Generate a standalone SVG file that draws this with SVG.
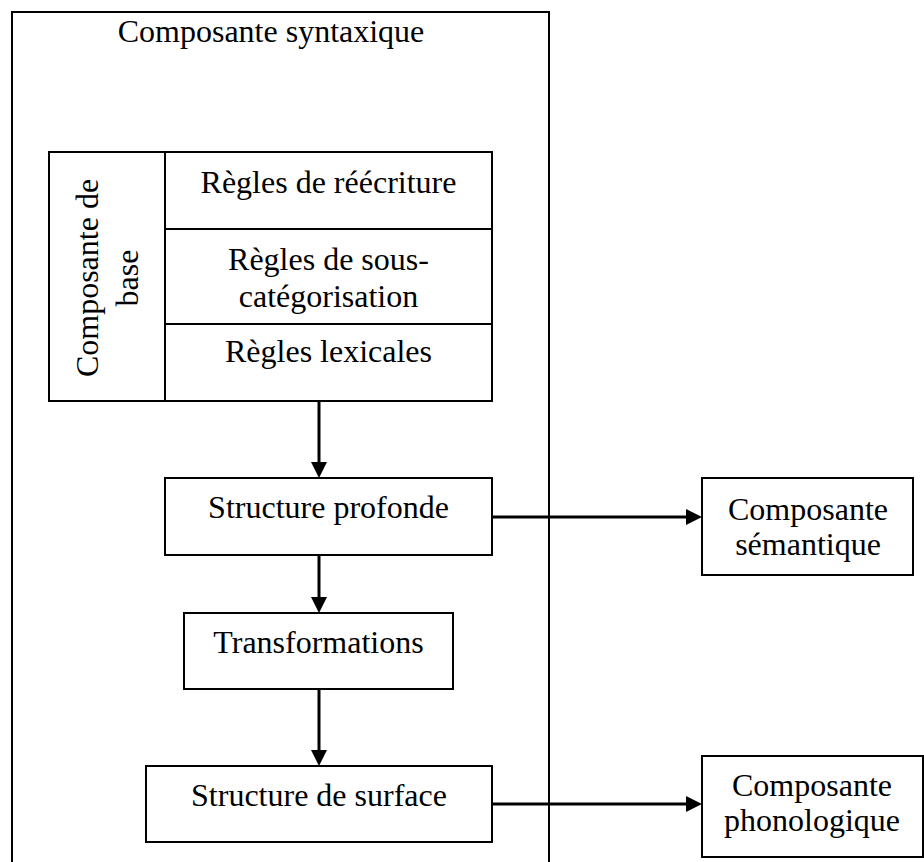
<svg xmlns="http://www.w3.org/2000/svg" width="924" height="862" viewBox="0 0 924 862">
  <style>
    .box { fill: #fff; stroke: #000; stroke-width: 2; }
    .rule { stroke: #000; stroke-width: 2; }
    .wire { fill: none; stroke: #000; stroke-width: 3; }
    text { font-family: "Liberation Serif", "Times New Roman", serif; font-size: 32px; fill: #000; text-anchor: middle; }
  </style>
  <defs>
    <marker id="head" viewBox="0 0 16 16" refX="8" refY="8" markerWidth="16" markerHeight="16" markerUnits="userSpaceOnUse" orient="auto">
      <path d="M0,0 L16,8 L0,16 z" fill="#000"/>
    </marker>
  </defs>
  <rect width="924" height="862" fill="#fff"/>

  <!-- syntactic component frame (runs off the bottom edge) -->
  <g id="syntaxique">
    <rect class="box" x="12" y="12" width="537" height="870"/>
    <text x="271" y="42">Composante syntaxique</text>
  </g>

  <!-- base component with its three rule sets -->
  <g id="base">
    <rect class="box" x="49" y="152" width="443" height="249"/>
    <line class="rule" x1="165" y1="152" x2="165" y2="401"/>
    <line class="rule" x1="165" y1="229" x2="492" y2="229"/>
    <line class="rule" x1="165" y1="324" x2="492" y2="324"/>
    <text transform="translate(98,278) rotate(-90)">Composante de</text>
    <text transform="translate(138,278) rotate(-90)">base</text>
  </g>
  <g id="reecriture">
    <text x="328.5" y="193">Règles de réécriture</text>
  </g>
  <g id="souscategorisation">
    <text x="328.5" y="270">Règles de sous-</text>
    <text x="328.5" y="307">catégorisation</text>
  </g>
  <g id="lexicales">
    <text x="328.5" y="362">Règles lexicales</text>
  </g>

  <g id="profonde">
    <rect class="box" x="165" y="478" width="327" height="77"/>
    <text x="328.5" y="518">Structure profonde</text>
  </g>

  <g id="transformations">
    <rect class="box" x="184" y="613" width="269" height="76"/>
    <text x="318.5" y="653">Transformations</text>
  </g>

  <g id="surface">
    <rect class="box" x="146" y="766" width="346" height="76"/>
    <text x="319" y="806">Structure de surface</text>
  </g>

  <g id="semantique">
    <rect class="box" x="702" y="478" width="211" height="97"/>
    <text x="808" y="520">Composante</text>
    <text x="808" y="555">sémantique</text>
  </g>

  <g id="phonologique">
    <rect class="box" x="702" y="756" width="221" height="101"/>
    <text x="812" y="796">Composante</text>
    <text x="812" y="831">phonologique</text>
  </g>

  <!-- connectors -->
  <g id="connectors">
    <line class="wire" x1="319" y1="401" x2="319" y2="470" marker-end="url(#head)"/>
    <line class="wire" x1="319" y1="555" x2="319" y2="605" marker-end="url(#head)"/>
    <line class="wire" x1="319" y1="689" x2="319" y2="758" marker-end="url(#head)"/>
    <line class="wire" x1="492" y1="517" x2="694" y2="517" marker-end="url(#head)"/>
    <line class="wire" x1="492" y1="804" x2="694" y2="804" marker-end="url(#head)"/>
  </g>
</svg>
